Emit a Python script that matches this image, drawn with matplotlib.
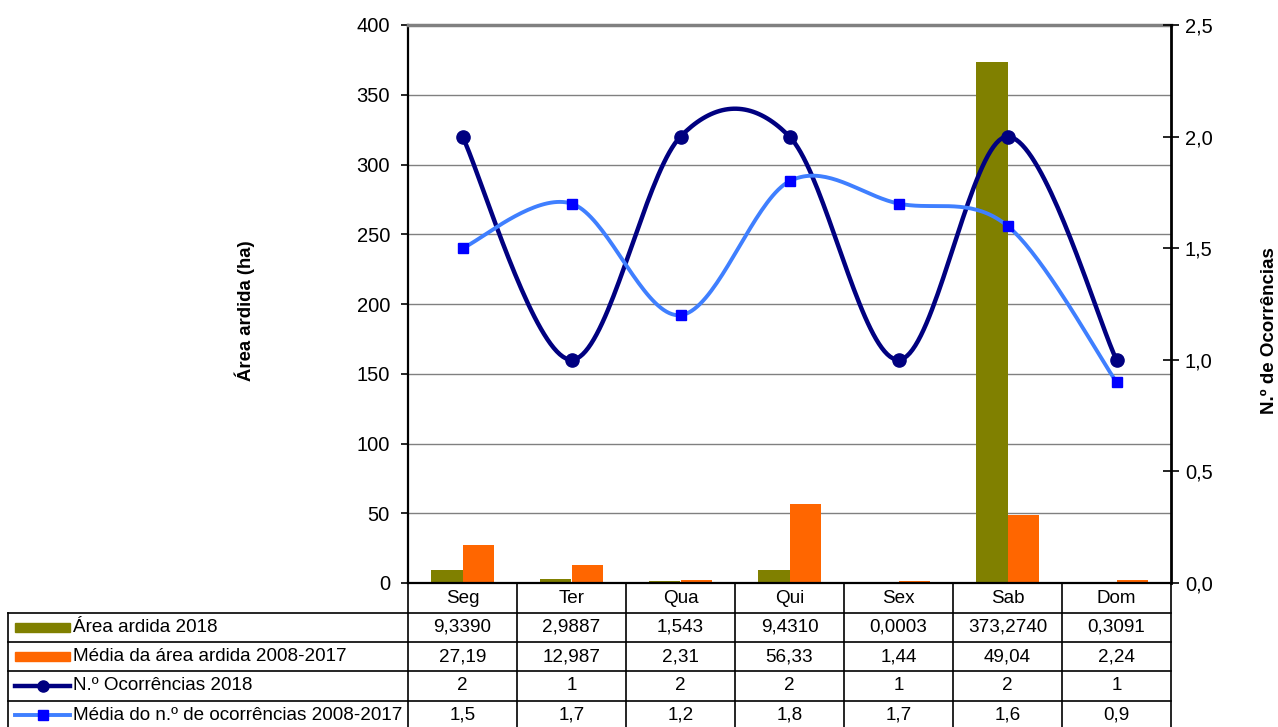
import matplotlib
matplotlib.use("Agg")
import matplotlib.pyplot as plt
import numpy as np
from matplotlib.lines import Line2D
from matplotlib.patches import Rectangle

plt.rcParams['font.family'] = ['Liberation Sans', 'DejaVu Sans']

# ---- data -------------------------------------------------------------
days = ["Seg", "Ter", "Qua", "Qui", "Sex", "Sab", "Dom"]
area_2018_txt = ["9,3390", "2,9887", "1,543", "9,4310", "0,0003", "373,2740", "0,3091"]
area_media_txt = ["27,19", "12,987", "2,31", "56,33", "1,44", "49,04", "2,24"]
ocorr_2018_txt = ["2", "1", "2", "2", "1", "2", "1"]
ocorr_media_txt = ["1,5", "1,7", "1,2", "1,8", "1,7", "1,6", "0,9"]
series_names = ["Área ardida 2018",
                "Média da área ardida 2008-2017",
                "N.º Ocorrências 2018",
                "Média do n.º de ocorrências 2008-2017"]
left_ticks = [0, 50, 100, 150, 200, 250, 300, 350, 400]
right_ticks = [0.0, 0.5, 1.0, 1.5, 2.0, 2.5]


def to_num(values):
    return np.array([float(v.replace(",", ".")) for v in values])


area_2018 = to_num(area_2018_txt)
area_media = to_num(area_media_txt)
ocorr_2018 = to_num(ocorr_2018_txt)
ocorr_media = to_num(ocorr_media_txt)

GREEN = "#808000"
ORANGE = "#FF6600"
NAVY = "#000080"
LBLUE = "#3F7FFF"
SQ = "#0000FF"


def smooth(xs, ys, n=40):
    """Bezier smoothing through every point (Catmull-Rom style tangents)."""
    xs = np.asarray(xs, float)
    ys = np.asarray(ys, float)
    px = np.concatenate([[xs[0]], xs, [xs[-1]]])
    py = np.concatenate([[ys[0]], ys, [ys[-1]]])
    t = np.linspace(0, 1, n)[:, None]
    out = []
    for i in range(1, len(px) - 2):
        p0 = np.array([px[i - 1], py[i - 1]])
        p1 = np.array([px[i], py[i]])
        p2 = np.array([px[i + 1], py[i + 1]])
        p3 = np.array([px[i + 2], py[i + 2]])
        c1 = p1 + (p2 - p0) / 6.0
        c2 = p2 - (p3 - p1) / 6.0
        seg = ((1 - t) ** 3) * p1 + 3 * ((1 - t) ** 2) * t * c1 \
            + 3 * (1 - t) * t ** 2 * c2 + t ** 3 * p2
        out.append(seg if i == 1 else seg[1:])
    out = np.vstack(out)
    return out[:, 0], out[:, 1]


W, H = 1278, 727
fig = plt.figure(figsize=(W / 100, H / 100), dpi=100)
fig.patch.set_facecolor("white")

L, R, T, B = 408, 1171, 25, 583
ax = fig.add_axes([L / W, 1 - B / H, (R - L) / W, (B - T) / H])
x = np.arange(len(days))
ax.set_xlim(-0.5, len(days) - 0.5)
ax.set_ylim(left_ticks[0], left_ticks[-1])
ax.set_yticks(left_ticks)
ax.set_yticklabels([str(v) for v in left_ticks], fontsize=14.5)
ax.set_xticks([])
ax.tick_params(axis="y", direction="out", length=5, width=1.2, pad=8,
               colors="black")
ax.set_axisbelow(True)
ax.yaxis.grid(True, color="#808080", lw=1.0)
ax.spines["top"].set_color("#808080")
ax.spines["top"].set_linewidth(2.5)
ax.spines["left"].set_linewidth(1.6)
ax.spines["bottom"].set_linewidth(1.6)
ax.spines["right"].set_visible(False)

bw = 0.285
ax.bar(x - bw / 2, area_2018, width=bw, color=GREEN, zorder=2)
ax.bar(x + bw / 2, area_media, width=bw, color=ORANGE, zorder=2)

ax.set_ylabel("Área ardida (ha)", fontsize=13.3, fontweight="bold",
              labelpad=0)
ax.yaxis.set_label_coords((255 - L) / (R - L), 0.488)

ax2 = ax.twinx()
ax2.set_xlim(-0.5, len(days) - 0.5)
ax2.set_ylim(right_ticks[0], right_ticks[-1])
ax2.set_yticks(right_ticks)
ax2.set_yticklabels([f"{v:.1f}".replace(".", ",") for v in right_ticks],
                    fontsize=14.5)
ax2.tick_params(axis="y", direction="inout", length=12, width=1.2, pad=4)
for s in ("top", "left", "bottom"):
    ax2.spines[s].set_visible(False)
ax2.spines["right"].set_linewidth(2.0)

sx, sy = smooth(x, ocorr_2018)
ax2.plot(sx, sy, color=NAVY, lw=3.2, solid_capstyle="round", zorder=3)
ax2.plot(x, ocorr_2018, ls="none", marker="o", ms=9.5, color=NAVY, zorder=4)
sx, sy = smooth(x, ocorr_media)
ax2.plot(sx, sy, color=LBLUE, lw=2.8, solid_capstyle="round", zorder=3)
ax2.plot(x, ocorr_media, ls="none", marker="s", ms=6.5, color=SQ, zorder=4)

ax2.set_ylabel("N.º de Ocorrências", fontsize=13.5, fontweight="bold",
               rotation=90, labelpad=0)
ax2.yaxis.set_label_coords((1261 - L) / (R - L), 0.452)

# ---- data table below the plot -----------------------------------------
to_fig = fig.transFigure.inverted()


def fx_data(v):
    return to_fig.transform(ax.transData.transform((v, 0)))[0]


def fy(py):
    return 1 - py / H


def fxp(px):
    return px / W


bounds = [fx_data(k - 0.5) for k in range(len(days) + 1)]
centers = [fx_data(k) for k in range(len(days))]
row_edges = [583, 613, 642, 671, 700.5, 730]
lkw = dict(color="black", lw=1.2, transform=fig.transFigure, clip_on=False)

left_edge = fxp(8)
for ry in row_edges[1:]:
    fig.add_artist(Line2D([left_edge, bounds[-1]], [fy(ry), fy(ry)], **lkw))
fig.add_artist(Line2D([left_edge, left_edge], [fy(row_edges[1]), fy(row_edges[-1])], **lkw))
for bx in bounds:
    fig.add_artist(Line2D([bx, bx], [fy(row_edges[0]), fy(row_edges[-1])], **lkw))

tsize = 13.6
for c, d in zip(centers, days):
    fig.text(c, fy((row_edges[0] + row_edges[1]) / 2 + 0.5), d, ha="center",
             va="center", fontsize=tsize)

rows = [area_2018_txt, area_media_txt, ocorr_2018_txt, ocorr_media_txt]
for r, (vals, name) in enumerate(zip(rows, series_names)):
    yc = fy((row_edges[r + 1] + row_edges[r + 2]) / 2)
    for c, v in zip(centers, vals):
        fig.text(c, yc, v, ha="center", va="center", fontsize=tsize)
    fig.text(fxp(73), yc, name, ha="left", va="center", fontsize=tsize)

# legend keys inside the row header cells
key_x0, key_x1 = fxp(15), fxp(70)
for r, col in enumerate([GREEN, ORANGE]):
    yc = (row_edges[r + 1] + row_edges[r + 2]) / 2
    fig.add_artist(Rectangle((key_x0, fy(yc + 4.5)), key_x1 - key_x0,
                             9 / H, color=col, transform=fig.transFigure))
for r, (col, mk, mcol, ms, lw) in enumerate(
        [(NAVY, "o", NAVY, 8, 3.2), (LBLUE, "s", SQ, 6.5, 2.8)]):
    yc = fy((row_edges[r + 3] + row_edges[r + 4]) / 2)
    fig.add_artist(Line2D([key_x0, key_x1], [yc, yc], color=col, lw=lw,
                          transform=fig.transFigure))
    fig.add_artist(Line2D([(key_x0 + key_x1) / 2], [yc], marker=mk,
                          ms=ms, color=mcol, ls="none",
                          transform=fig.transFigure))

fig.savefig("out.png", dpi=100, facecolor="white")
